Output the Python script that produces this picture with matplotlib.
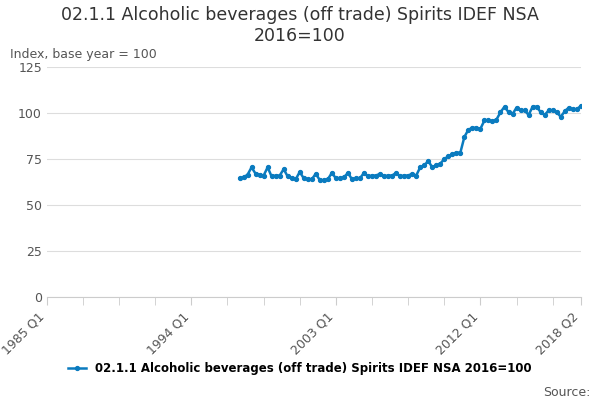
import matplotlib.pyplot as plt
import numpy as np

# quarterly values from 1997 Q1 to 2018 Q2
values = [64.5, 65, 66.5, 70.5,
          67, 66.5, 66, 70.5,
          65.5, 66, 66, 69.5,
          65.5, 64.5, 64, 68,
          64.5, 64, 64, 67,
          63.5, 63.5, 64, 67.5,
          64.5, 64.5, 65, 67.5,
          64, 64.5, 64.5, 67.5,
          65.5, 66, 66, 67,
          65.5, 66, 66, 67.5,
          65.5, 66, 66, 67,
          66, 70.5, 71.5, 74,
          70.5, 71.5, 72.5, 75,
          76.5, 77.5, 78.5, 78.5,
          87, 91, 92, 92,
          91.5, 96, 96, 95.5,
          96.5, 100.5, 103.5, 100.5,
          99.5, 103, 101.5, 101.5,
          99, 103.5, 103.5, 100.5,
          99, 101.5, 101.5, 100.5,
          98, 101, 103, 102,
          102, 104]
start_q = 48  # quarters after 1985 Q1
tick_pos = [0, 36, 72, 108, 133]
tick_labels = ['1985 Q1', '1994 Q1', '2003 Q1', '2012 Q1', '2018 Q2']

fig, ax = plt.subplots(figsize=(6, 4), dpi=100)
fig.subplots_adjust(left=0.078, right=0.968, top=0.832, bottom=0.258)
x = np.arange(start_q, start_q + len(values))
ax.plot(x, values, color='#0a7bbf', lw=1.8, marker='o', ms=2.8,
        label='02.1.1 Alcoholic beverages (off trade) Spirits IDEF NSA 2016=100')
ax.set_xlim(0, 133)
ax.set_ylim(0, 125)
ax.set_yticks([0, 25, 50, 75, 100, 125])
ax.set_xticks(np.arange(0, 134, 9), minor=True)
ax.set_xticks(tick_pos)
ax.set_xticklabels(tick_labels, rotation=45, ha='right', color='#555555', fontsize=9)
ax.tick_params(axis='y', length=0, labelcolor='#555555', labelsize=9)
ax.tick_params(axis='x', which='both', length=6, color='#cccccc')
ax.grid(axis='y', color='#dddddd')
for s in ['top', 'right', 'left']:
    ax.spines[s].set_visible(False)
ax.spines['bottom'].set_color('#cccccc')
fig.suptitle('02.1.1 Alcoholic beverages (off trade) Spirits IDEF NSA\n2016=100',
             fontsize=12.5, color='#333333', y=0.985)
fig.text(0.017, 0.855, 'Index, base year = 100', fontsize=9, color='#555555')
fig.legend(loc='lower center', bbox_to_anchor=(0.5, 0.035), frameon=False,
           prop={'weight': 'bold', 'size': 8.5}, handlelength=1.5)
fig.text(0.985, 0.01, 'Source:', ha='right', fontsize=9, color='#555555')
fig.savefig('out.png')
